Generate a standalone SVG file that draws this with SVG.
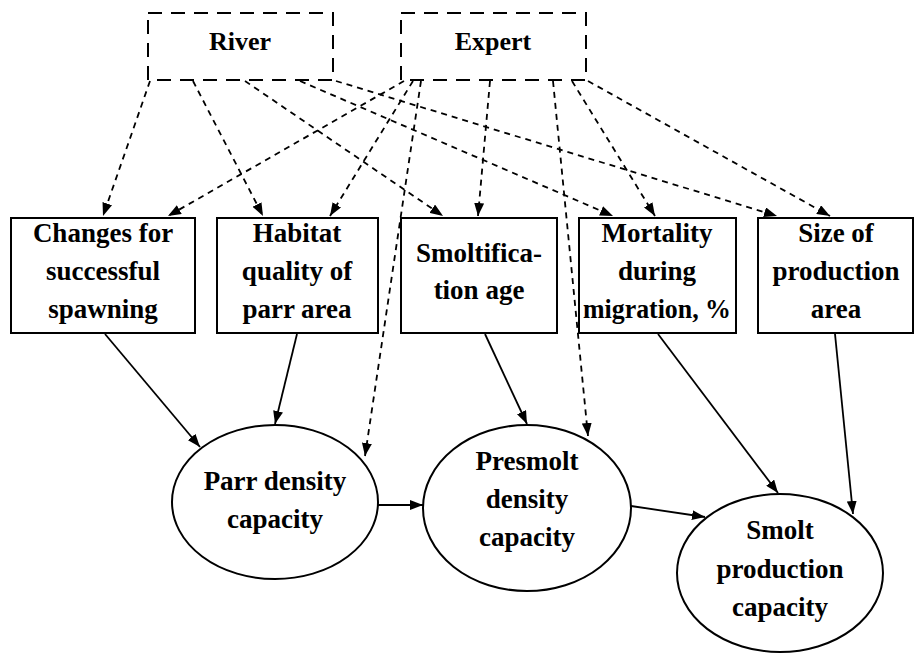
<svg xmlns="http://www.w3.org/2000/svg" width="918" height="653" viewBox="0 0 918 653">
<defs>
<marker id="ah" markerUnits="userSpaceOnUse" markerWidth="13" markerHeight="10" refX="13" refY="5" orient="auto">
<path d="M0,0 L13,5 L0,10 z" fill="#000"/>
</marker>
<style>
text{font-family:"Liberation Serif","Times New Roman",serif;font-weight:bold;font-size:27px;fill:#000;text-anchor:middle}
.st{font-size:26px}
.src{fill:#fff;stroke:#000;stroke-width:2;stroke-dasharray:14 9}
.box{fill:#fff;stroke:#000;stroke-width:2}
.ell{fill:#fff;stroke:#000;stroke-width:2}
.d{fill:none;stroke:#000;stroke-width:1.8;stroke-dasharray:6 5;marker-end:url(#ah)}
.s{fill:none;stroke:#000;stroke-width:1.8;marker-end:url(#ah)}
</style>
</defs>
<rect width="918" height="653" fill="#fff"/>
<g id="connectors">
<line class="d" x1="150" y1="81" x2="103" y2="216"/>
<line class="d" x1="193" y1="81" x2="263" y2="216"/>
<line class="d" x1="245" y1="81" x2="443" y2="216"/>
<line class="d" x1="300" y1="81" x2="613" y2="216"/>
<line class="d" x1="336" y1="81" x2="777" y2="216"/>
<line class="d" x1="404" y1="81" x2="168" y2="216"/>
<line class="d" x1="413" y1="81" x2="330" y2="216"/>
<line class="d" x1="421" y1="81" x2="365" y2="456"/>
<line class="d" x1="490" y1="81" x2="478" y2="216"/>
<line class="d" x1="553" y1="81" x2="588" y2="436"/>
<line class="d" x1="572" y1="81" x2="655" y2="216"/>
<line class="d" x1="588" y1="81" x2="830" y2="216"/>
<line class="s" x1="105" y1="334" x2="200" y2="447"/>
<line class="s" x1="297" y1="334" x2="275" y2="424"/>
<line class="s" x1="485" y1="334" x2="527" y2="424"/>
<line class="s" x1="378" y1="505" x2="423" y2="505"/>
<line class="s" x1="631" y1="506" x2="705" y2="517"/>
<line class="s" x1="658" y1="334" x2="778" y2="493"/>
<line class="s" x1="835" y1="334" x2="853" y2="514"/>
</g>
<g id="river"><rect class="src" x="148" y="13" width="185" height="67"/><text class="st" x="240" y="50">River</text></g>
<g id="expert"><rect class="src" x="401" y="13" width="185" height="67"/><text class="st" x="493" y="50">Expert</text></g>
<g id="changes"><rect class="box" x="11" y="218" width="184" height="115"/><text x="103" y="242">Changes for</text><text x="103" y="280">successful</text><text x="103" y="318">spawning</text></g>
<g id="habitat"><rect class="box" x="217" y="218" width="161" height="115"/><text x="297" y="242">Habitat</text><text x="297" y="280">quality of</text><text x="297" y="318">parr area</text></g>
<g id="smoltification"><rect class="box" x="401" y="218" width="156" height="115"/><text x="479" y="262">Smoltifica-</text><text x="479" y="299">tion age</text></g>
<g id="mortality"><rect class="box" x="579" y="218" width="157" height="115"/><text x="657" y="242">Mortality</text><text x="657" y="280">during</text><text x="657" y="318" textLength="148" lengthAdjust="spacingAndGlyphs">migration, %</text></g>
<g id="size"><rect class="box" x="758" y="218" width="155" height="115"/><text x="836" y="242">Size of</text><text x="836" y="280">production</text><text x="836" y="318">area</text></g>
<g id="parr"><ellipse class="ell" cx="275" cy="502" rx="103" ry="77"/><text x="275" y="490">Parr density</text><text x="275" y="528">capacity</text></g>
<g id="presmolt"><ellipse class="ell" cx="527" cy="508" rx="104" ry="83"/><text x="527" y="470">Presmolt</text><text x="527" y="508">density</text><text x="527" y="546">capacity</text></g>
<g id="smolt"><ellipse class="ell" cx="780" cy="573" rx="103" ry="79"/><text x="780" y="539">Smolt</text><text x="780" y="578">production</text><text x="780" y="616">capacity</text></g>
</svg>
